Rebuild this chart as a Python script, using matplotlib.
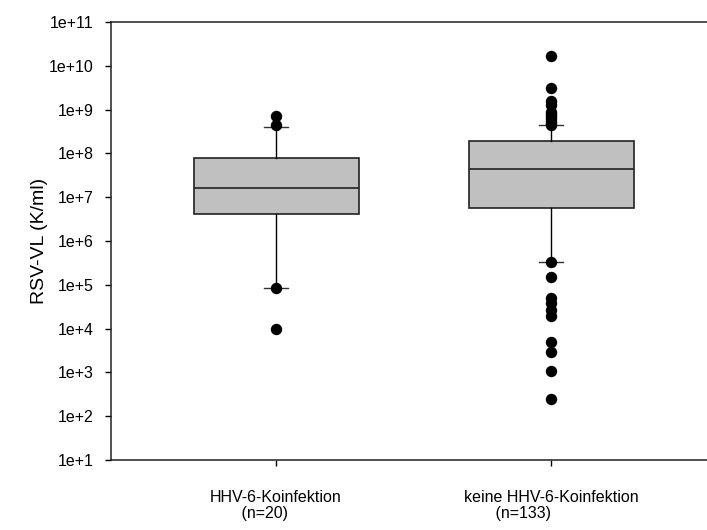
import math
import matplotlib
matplotlib.use("Agg")
import matplotlib.pyplot as plt
from matplotlib.ticker import FixedLocator, FuncFormatter, NullLocator

plt.rcParams['font.family'] = ['Liberation Sans', 'DejaVu Sans']

# group labels
groups = ["HHV-6-Koinfektion", "keine HHV-6-Koinfektion"]
counts = ["(n=20)", "(n=133)"]

# box statistics (whiskers at 10th/90th percentile)
q1 = [4.1e6, 5.7e6]
median = [1.62e7, 4.4e7]
q3 = [7.85e7, 1.92e8]
whis_lo = [8.4e4, 3.3e5]
whis_hi = [4.0e8, 4.45e8]

# outliers
fliers_hhv6 = [7.1e8, 4.4e8, 8.3e4, 1.0e4]
fliers_none = [1.67e10, 3.1e9, 1.57e9, 1.27e9, 8.8e8, 7.9e8, 7.1e8, 6.3e8,
               5.5e8, 4.9e8, 4.5e8,
               3.3e5, 1.5e5, 5.0e4, 3.8e4, 2.7e4, 1.9e4, 4.9e3, 2.9e3,
               1.1e3, 2.5e2]
fliers = [fliers_hhv6, fliers_none]

stats = []
for i in range(len(groups)):
    stats.append({
        "med": median[i], "q1": q1[i], "q3": q3[i],
        "whislo": whis_lo[i], "whishi": whis_hi[i],
        "fliers": fliers[i],
    })

fig = plt.figure(figsize=(7.07, 5.30), dpi=100)
ax = fig.add_axes([0.157, 0.132, 0.843, 0.8265])

ax.bxp(stats, positions=[1, 2], widths=0.6, capwidths=0.09,
       patch_artist=True, showfliers=True,
       boxprops=dict(facecolor="#c0c0c0", edgecolor="#222222", linewidth=1.2),
       medianprops=dict(color="#222222", linewidth=1.2),
       whiskerprops=dict(color="black", linewidth=1.0),
       capprops=dict(color="#333333", linewidth=1.0),
       flierprops=dict(marker="o", markerfacecolor="black",
                       markeredgecolor="black", markersize=7.2))

ax.set_yscale("log")
ax.set_ylim(1e1, 1e11)
ax.set_xlim(0.4, 2.567)

ax.yaxis.set_major_locator(FixedLocator([10.0 ** k for k in range(1, 12)]))
ax.yaxis.set_minor_locator(NullLocator())
ax.yaxis.set_major_formatter(FuncFormatter(lambda v, p: "1e+%d" % round(math.log10(v))))

labels = [g + "\n       " + c for g, c in zip(groups, counts)]
ax.set_xticks([1, 2])
ax.set_xticklabels(labels, multialignment="left", linespacing=1.1)

ax.tick_params(axis="y", direction="out", length=4.5, width=1.0, pad=8,
               labelsize=11.5)
ax.tick_params(axis="x", direction="out", length=4.5, width=1.0, pad=17,
               labelsize=11.5)

for s in ["left", "top", "bottom"]:
    ax.spines[s].set_linewidth(1.1)
    ax.spines[s].set_color("#222222")
ax.spines["right"].set_visible(False)

ax.set_ylabel("RSV-VL (K/ml)", fontsize=14)
ax.yaxis.set_label_coords(-0.106, 0.5)

fig.savefig("out.png", dpi=100)
